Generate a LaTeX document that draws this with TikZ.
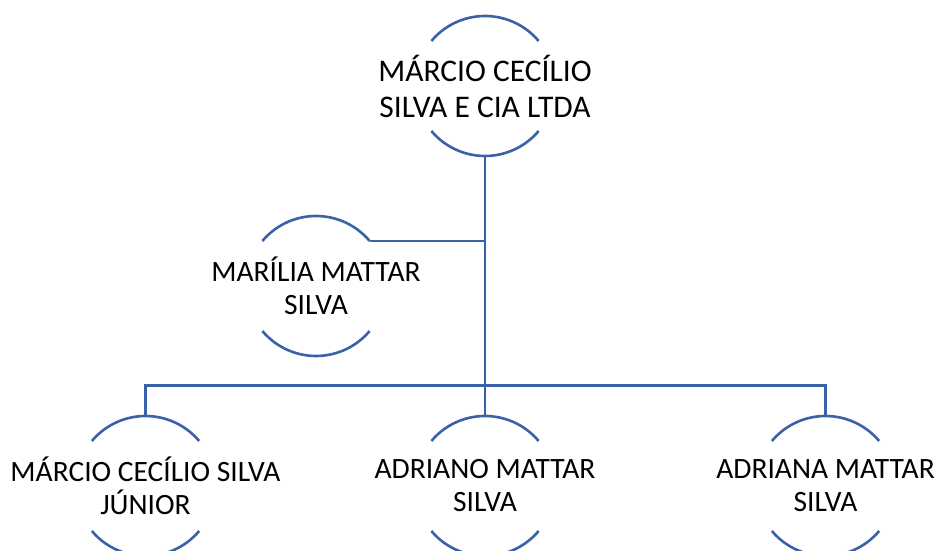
\documentclass[tikz,border=0pt]{standalone}
\usepackage{fontspec}
\setmainfont{Carlito}
\definecolor{lineblue}{HTML}{3A62A8}
\tikzset{
  person/.style={circle, minimum size=140pt, inner sep=0pt, outer sep=0pt},
  persontext/.style={align=center, font=\fontsize{29.5}{33}\selectfont, text=black},
  toptext/.style={persontext, font=\fontsize{31.5}{36}\selectfont},
  arcline/.style={draw=lineblue, line width=2.6pt},
  link/.style={draw=lineblue, line width=2.6pt}
}
\begin{document}
\begin{tikzpicture}[x=1pt,y=1pt]
\useasboundingbox (0,0) rectangle (940,551);
% circles
\node[person] (t) at (485,465) {};
\node[person] (ma) at (316,265) {};
\node[person] (j) at (145.5,65) {};
\node[person] (ad) at (485,65) {};
\node[person] (an) at (825.5,65) {};
% arcs
\foreach \n in {t,ma,j,ad,an}{
  \draw[arcline] (\n.140) arc[start angle=140, end angle=40, radius=70pt];
  \draw[arcline] (\n.220) arc[start angle=220, end angle=320, radius=70pt];
}
% texts
\node[toptext] (tt) at (t) {MÁRCIO CECÍLIO\\SILVA E CIA LTDA};
\node[persontext] (mat) at (ma) {MARÍLIA MATTAR\\SILVA};
\node[persontext] (jt) at (j) {MÁRCIO CECÍLIO SILVA\\JÚNIOR};
\node[persontext] (adt) at (ad) {ADRIANO MATTAR\\SILVA};
\node[persontext] (ant) at (an) {ADRIANA MATTAR\\SILVA};
% connectors
\coordinate (bus) at (485,165.3);
\draw[link] (t.south) -- (ad.north);
\draw[link] (ma.40) -- (ma.40 -| t.south);
\draw[link] (j.north) -- (j.north |- bus) -- (an.north |- bus) -- (an.north);
\end{tikzpicture}
\end{document}
